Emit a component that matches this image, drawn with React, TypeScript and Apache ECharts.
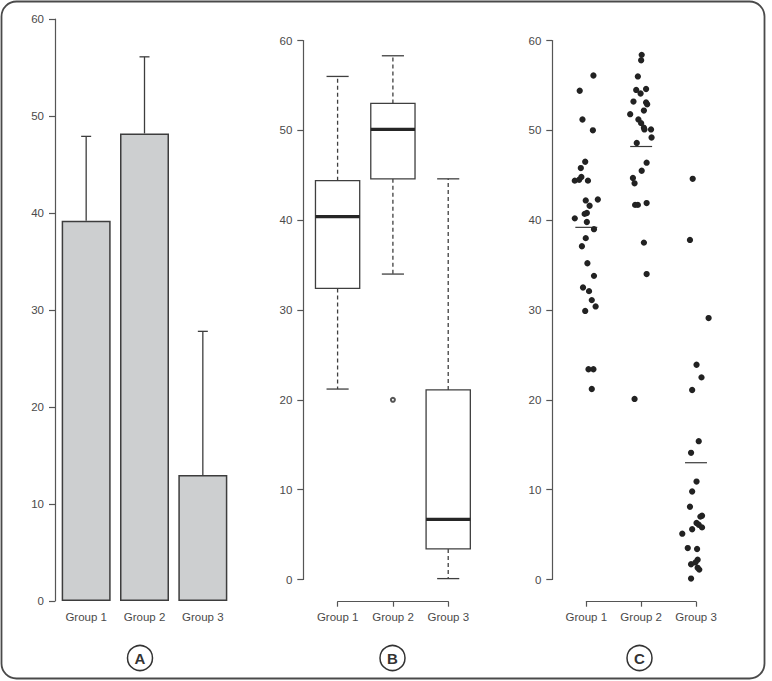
import React, { useEffect, useRef } from "react";
import * as echarts from "echarts";

// ---- data ----
const groups = ["Group 1", "Group 2", "Group 3"];
const groupMeans = [39.2, 48.2, 13.0];
const groupSDs = [8.7, 7.9, 14.8];

// box plot statistics per group: [lower whisker, Q1, median, Q3, upper whisker]
const boxGroup1 = [21.2, 32.4, 40.4, 44.4, 56.0];
const boxGroup2 = [34.0, 44.6, 50.1, 53.0, 58.3];
const boxGroup3 = [0.1, 3.4, 6.7, 21.1, 44.6];
// outliers: [group number, value]
const boxOutliers = [[2, 20.0]];

// individual observations: [horizontal jitter, value]
const pointsGroup1 = [
  [0.13, 56.1], [-0.12, 54.4], [-0.07, 51.2], [0.12, 50.0], [-0.02, 46.5],
  [-0.1, 45.8], [-0.21, 44.4], [-0.13, 44.5], [-0.09, 44.8], [0.03, 44.4],
  [-0.01, 42.2], [0.21, 42.3], [0.06, 41.6], [-0.03, 40.7], [0.01, 40.8],
  [-0.21, 40.2], [0.01, 39.8], [0.14, 39.0], [-0.01, 38.0], [-0.08, 37.1],
  [0.02, 35.2], [0.14, 33.8], [-0.06, 32.5], [0.05, 32.1], [0.1, 31.1],
  [0.17, 30.4], [-0.02, 29.9], [0.04, 23.4], [0.13, 23.4], [0.1, 21.2],
];
const pointsGroup2 = [
  [0.01, 58.4], [0.0, 57.8], [-0.06, 56.0], [-0.09, 54.5], [0.09, 54.6],
  [-0.01, 54.1], [-0.14, 53.2], [0.09, 53.1], [0.11, 52.9], [0.05, 52.2],
  [-0.2, 51.8], [-0.05, 51.2], [0.0, 50.8], [0.05, 50.3], [0.06, 50.1],
  [0.18, 50.1], [0.19, 49.2], [-0.08, 48.6], [0.1, 46.4], [0.01, 45.5],
  [-0.15, 44.7], [-0.12, 44.1], [-0.11, 41.7], [-0.06, 41.7], [0.1, 41.9],
  [0.05, 37.5], [0.1, 34.0], [-0.12, 20.1],
];
const pointsGroup3 = [
  [-0.06, 44.6], [-0.11, 37.8], [0.23, 29.1], [0.01, 23.9], [0.1, 22.5],
  [-0.07, 21.1], [0.05, 15.4], [-0.09, 14.1], [0.01, 10.9], [-0.07, 9.8],
  [-0.11, 8.1], [0.11, 7.1], [0.08, 7.0], [0.01, 6.3], [0.05, 6.1],
  [0.11, 5.8], [-0.07, 5.6], [-0.25, 5.1], [-0.15, 3.5], [0.02, 3.4],
  [0.03, 2.2], [-0.09, 1.7], [-0.01, 1.9], [0.03, 1.3], [0.06, 1.1],
  [-0.09, 0.1],
];
const panelLetters = ["A", "B", "C"];

// ---- styling ----
const FONT = "'Liberation Sans', Arial, Helvetica, sans-serif";
const AXIS = "#555555";
const TEXT = "#4a4a4a";
const INK = "#333333";

function valueYAxis(gridIndex: number, offset = 0) {
  return {
    type: "value",
    gridIndex,
    min: 0,
    max: 60,
    interval: 10,
    offset,
    axisLine: { show: true, lineStyle: { color: AXIS, width: 1.2 } },
    axisTick: { show: true, length: 6, lineStyle: { color: AXIS, width: 1.2 } },
    axisLabel: { margin: 11, fontSize: 11.5, color: TEXT, fontFamily: FONT },
    splitLine: { show: false },
  };
}

function hiddenAxis(gridIndex: number, min: number, max: number) {
  return { type: "value", gridIndex, min, max, show: false, splitLine: { show: false } };
}

function bracketAxis(gridIndex: number) {
  return {
    type: "value",
    gridIndex,
    min: 1,
    max: 3,
    interval: 1,
    axisLine: { show: true, lineStyle: { color: AXIS, width: 1.2 } },
    axisTick: { show: true, length: 5, lineStyle: { color: AXIS, width: 1.2 } },
    axisLabel: {
      margin: 9,
      fontSize: 11.5,
      color: TEXT,
      fontFamily: FONT,
      formatter: (v: number) => groups[v - 1] ?? "",
    },
    splitLine: { show: false },
  };
}

export default function App() {
  const ref = useRef<HTMLDivElement>(null);

  useEffect(() => {
    if (!ref.current) return;
    const chart = echarts.init(ref.current, undefined, { renderer: "svg" });

    const boxData = [boxGroup1, boxGroup2, boxGroup3].map((s, i) => [i + 1, ...s]);
    const stripData = [pointsGroup1, pointsGroup2, pointsGroup3].flatMap((pts, i) =>
      pts.map(([dx, v]) => [i + 1 + dx, v])
    );

    const gridBase = { containLabel: false, outerBoundsMode: "none" };

    const option: any = {
      animation: false,
      backgroundColor: "#ffffff",
      textStyle: { fontFamily: FONT },
      grid: [
        { ...gridBase, left: 57, top: 19, width: 175, height: 582 },
        { ...gridBase, left: 303.3, top: 40.5, width: 179.2, height: 539 },
        { ...gridBase, left: 337.7, top: 590, width: 110.6, height: 11.7 },
        { ...gridBase, left: 552.3, top: 40.5, width: 177.7, height: 539 },
        { ...gridBase, left: 586.3, top: 590, width: 109.7, height: 11.7 },
      ],
      xAxis: [
        {
          type: "category",
          gridIndex: 0,
          data: groups,
          axisLine: { show: false },
          axisTick: { show: false },
          axisLabel: { margin: 9.5, fontSize: 11.5, color: TEXT, fontFamily: FONT },
        },
        hiddenAxis(1, 0.38, 3.62),
        bracketAxis(2),
        hiddenAxis(3, 0.38, 3.62),
        bracketAxis(4),
      ],
      yAxis: [
        valueYAxis(0, 2),
        valueYAxis(1),
        hiddenAxis(2, 0, 1),
        valueYAxis(3),
        hiddenAxis(4, 0, 1),
      ],
      series: [
        // A: mean bars
        {
          type: "bar",
          xAxisIndex: 0,
          yAxisIndex: 0,
          data: groupMeans,
          barWidth: 49,
          itemStyle: { color: "#cdcfd0", borderColor: "#3d3d3d", borderWidth: 1.5 },
        },
        // A: SD error bars
        {
          type: "custom",
          xAxisIndex: 0,
          yAxisIndex: 0,
          data: groupMeans.map((m, i) => [i, m, groupSDs[i]]),
          renderItem: (_p: any, api: any) => {
            const x = api.value(0);
            const m = api.value(1);
            const sd = api.value(2);
            const base = api.coord([x, m]);
            const top = api.coord([x, m + sd]);
            const style = { stroke: "#3d3d3d", lineWidth: 1.3 };
            return {
              type: "group",
              children: [
                { type: "line", shape: { x1: base[0], y1: base[1], x2: top[0], y2: top[1] }, style },
                { type: "line", shape: { x1: top[0] - 5, y1: top[1], x2: top[0] + 5, y2: top[1] }, style },
              ],
            };
          },
        },
        // B: box plots
        {
          type: "custom",
          xAxisIndex: 1,
          yAxisIndex: 1,
          data: boxData,
          renderItem: (_p: any, api: any) => {
            const x = api.value(0);
            const lo = api.value(1);
            const q1 = api.value(2);
            const med = api.value(3);
            const q3 = api.value(4);
            const hi = api.value(5);
            const half = 0.4;
            const cap = 0.2;
            const pQ3L = api.coord([x - half, q3]);
            const pQ1R = api.coord([x + half, q1]);
            const pMedL = api.coord([x - half, med]);
            const pMedR = api.coord([x + half, med]);
            const pHi = api.coord([x, hi]);
            const pLo = api.coord([x, lo]);
            const pQ3 = api.coord([x, q3]);
            const pQ1 = api.coord([x, q1]);
            const capL = api.coord([x - cap, hi])[0];
            const capR = api.coord([x + cap, hi])[0];
            const solid = { stroke: "#3f3f3f", lineWidth: 1.3 };
            const dashed = { stroke: "#3f3f3f", lineWidth: 1.3, lineDash: [4, 3] };
            return {
              type: "group",
              children: [
                { type: "line", shape: { x1: pQ3[0], y1: pQ3[1], x2: pHi[0], y2: pHi[1] }, style: dashed },
                { type: "line", shape: { x1: pQ1[0], y1: pQ1[1], x2: pLo[0], y2: pLo[1] }, style: dashed },
                { type: "line", shape: { x1: capL, y1: pHi[1], x2: capR, y2: pHi[1] }, style: solid },
                { type: "line", shape: { x1: capL, y1: pLo[1], x2: capR, y2: pLo[1] }, style: solid },
                {
                  type: "rect",
                  shape: { x: pQ3L[0], y: pQ3L[1], width: pQ1R[0] - pQ3L[0], height: pQ1R[1] - pQ3L[1] },
                  style: { fill: "#ffffff", stroke: "#3f3f3f", lineWidth: 1.3 },
                },
                {
                  type: "line",
                  shape: { x1: pMedL[0], y1: pMedL[1], x2: pMedR[0], y2: pMedR[1] },
                  style: { stroke: "#262626", lineWidth: 3.2 },
                },
              ],
            };
          },
        },
        // B: outliers
        {
          type: "scatter",
          xAxisIndex: 1,
          yAxisIndex: 1,
          data: boxOutliers,
          symbol: "emptyCircle",
          symbolSize: 4,
          z: 5,
          itemStyle: { color: "#555555", borderColor: "#555555", borderWidth: 0.8, opacity: 1 },
        },
        // C: individual observations
        {
          type: "scatter",
          xAxisIndex: 3,
          yAxisIndex: 3,
          data: stripData,
          symbol: "circle",
          symbolSize: 6.3,
          itemStyle: { color: "#222222", opacity: 1 },
        },
        // C: group mean markers
        {
          type: "custom",
          xAxisIndex: 3,
          yAxisIndex: 3,
          data: groupMeans.map((m, i) => [i + 1, m]),
          renderItem: (_p: any, api: any) => {
            const x = api.value(0);
            const m = api.value(1);
            const l = api.coord([x - 0.2, m]);
            const r = api.coord([x + 0.2, m]);
            return {
              type: "line",
              shape: { x1: l[0], y1: l[1], x2: r[0], y2: r[1] },
              style: { stroke: "#3a3a3a", lineWidth: 1.2 },
            };
          },
        },
      ],
      graphic: [
        {
          type: "rect",
          shape: { x: 1.5, y: 1.5, width: 763, height: 677, r: 15 },
          style: { fill: "none", stroke: "#4a4a4a", lineWidth: 1.8 },
          silent: true,
        },
        ...[140, 392.5, 639.5].flatMap((cx, i) => [
          {
            type: "circle",
            shape: { cx, cy: 658, r: 12.5 },
            style: { fill: "#ffffff", stroke: INK, lineWidth: 1.5 },
            silent: true,
          },
          {
            type: "text",
            x: cx,
            y: 658.5,
            style: {
              text: panelLetters[i],
              fill: INK,
              font: `bold 15px ${FONT}`,
              align: "center",
              verticalAlign: "middle",
            },
            silent: true,
          },
        ]),
      ],
    };

    chart.setOption(option);
    return () => chart.dispose();
  }, []);

  return (
    <div
      ref={ref}
      style={{ position: "fixed", left: 0, top: 0, width: 772, height: 681, background: "#ffffff" }}
    />
  );
}
